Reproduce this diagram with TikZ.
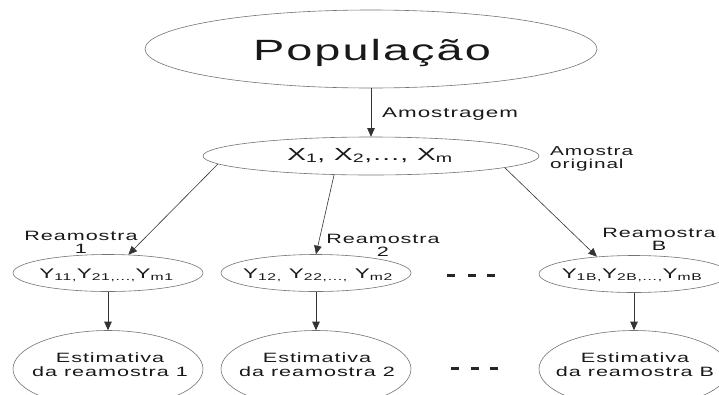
\documentclass[tikz,border=0pt]{standalone}
\usepackage{fontspec}
\newfontfamily\wf[FakeStretch=1.6,LetterSpace=7]{Liberation Sans}
\usetikzlibrary{shapes.geometric,arrows.meta}
\newcommand\myfs[2]{\fontsize{#1}{#2}\selectfont}
\newcommand\twoc[2]{\begin{tabular}[t]{@{}c@{}}#1\\#2\end{tabular}}
\newcommand\twol[2]{\begin{tabular}[t]{@{}l@{}}#1\\#2\end{tabular}}
\begin{document}
\begin{tikzpicture}[x=1pt,y=1pt,
  ell/.style={ellipse, draw=black!55, line width=0.6pt, inner sep=0pt},
  conn/.style={draw=black!80, line width=0.6pt, -{Triangle[length=8.5pt,width=7.5pt]}},
  txt/.style={anchor=base, inner sep=0pt, text=black!90, font=\wf},
  dotbar/.style={fill=black!85},
]
\useasboundingbox (0,0) rectangle (719,-394);
% ellipses
\node[ell, minimum width=452pt, minimum height=78pt] (pop) at (371,-49) {};
\node[ell, minimum width=336pt, minimum height=38pt] (samp) at (371,-156) {};
\node[ell, minimum width=190pt, minimum height=37pt] (r1) at (108,-273) {};
\node[ell, minimum width=190pt, minimum height=37pt] (r2) at (316,-273) {};
\node[ell, minimum width=190pt, minimum height=37pt] (rB) at (634,-274) {};
\node[ell, minimum width=190pt, minimum height=77pt] (e1) at (108,-369) {};
\node[ell, minimum width=190pt, minimum height=77pt] (e2) at (316,-369) {};
\node[ell, minimum width=190pt, minimum height=77pt] (eB) at (634,-369) {};
% texts
\node[txt] (popt) at (372,-60) {\myfs{29.3}{30}População};
\node[txt, anchor=base west] (amt) at (382,-117) {\myfs{14}{14}Amostragem};
\node[txt] (sampt) at (370,-160) {\myfs{17.5}{18}X\textsubscript{1}, X\textsubscript{2},..., X\textsubscript{m}};
\node[txt, anchor=base west] (orig) at (550,-155) {\myfs{13}{13}\twol{Amostra}{original}};
\node[txt] (r1t) at (106.5,-278) {\myfs{14}{14}Y\textsubscript{11,}Y\textsubscript{21,...,}Y\textsubscript{m1}};
\node[txt] (r2t) at (318,-278) {\myfs{14}{14}Y\textsubscript{12,} Y\textsubscript{22,...,} Y\textsubscript{m2}};
\node[txt] (rBt) at (632,-278) {\myfs{14}{14}Y\textsubscript{1B,}Y\textsubscript{2B,...,}Y\textsubscript{mB}};
\node[txt] (l1) at (81,-240) {\myfs{13.5}{13}\twoc{Reamostra}{1}};
\node[txt] (l2) at (383,-243) {\myfs{13.5}{13}\twoc{Reamostra}{2}};
\node[txt] (lB) at (659,-237) {\myfs{13.5}{13}\twoc{Reamostra}{B}};
\node[txt] (e1t) at (110,-362) {\myfs{13.5}{14}\twoc{Estimativa}{da reamostra 1}};
\node[txt] (e2t) at (317,-362) {\myfs{13.5}{14}\twoc{Estimativa}{da reamostra 2}};
\node[txt] (eBt) at (635,-362) {\myfs{13.5}{14}\twoc{Estimativa}{da reamostra B}};
% connectors
\draw[conn] (pop.south) -- (samp.north);
\draw[conn] (samp.183.4) -- (r1.42);
\draw[conn] (samp.207.3) -- (r2.north);
\draw[conn] (samp.355.9) -- (rB.155.9);
\draw[conn] (r1.south) -- (e1.north);
\draw[conn] (r2.south) -- (e2.north);
\draw[conn] (rB.south) -- (eB.north);
% dots
\foreach \x in {447,467.5,487}{\fill[dotbar] (\x,-273.5) rectangle ++(8,-3.2);}
\foreach \x in {451,471,490}{\fill[dotbar] (\x,-366.5) rectangle ++(8,-3.2);}
\end{tikzpicture}
\end{document}
